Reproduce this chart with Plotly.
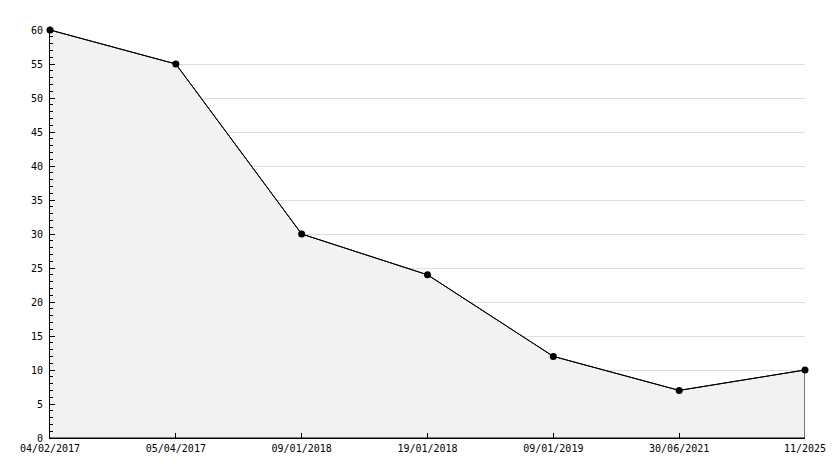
import plotly.graph_objects as go

dates = ["04/02/2017", "05/04/2017", "09/01/2018", "19/01/2018", "09/01/2019", "30/06/2021", "11/2025"]
values = [60, 55, 30, 24, 12, 7, 10]

font = dict(family="DejaVu Sans Mono", size=10, color="#000000")

fig = go.Figure()
# filled area outlined (closed polygon down to zero)
fig.add_trace(go.Scatter(
    x=dates + [dates[-1], dates[0]],
    y=values + [0, 0],
    mode="lines",
    fill="toself",
    fillcolor="#f2f2f2",
    line=dict(color="#000000", width=1),
    hoverinfo="skip",
    showlegend=False,
))
fig.add_trace(go.Scatter(
    x=dates, y=values,
    mode="lines+markers",
    line=dict(color="#000000", width=1),
    marker=dict(symbol="circle", size=7, color="#000000"),
    cliponaxis=False,
    showlegend=False,
))

# page body has an 8px default margin, so the figure is shifted accordingly
fig.update_layout(
    width=826, height=460,
    margin=dict(l=42, r=29, t=22, b=30, autoexpand=False),
    paper_bgcolor="#ffffff",
    plot_bgcolor="#ffffff",
    font=font,
    showlegend=False,
)
fig.update_xaxes(
    type="category",
    categoryorder="array", categoryarray=dates,
    range=[0, len(dates) - 1],
    showgrid=False,
    showline=True, linecolor="#000000", linewidth=1,
    ticks="inside", ticklen=5, tickcolor="#000000",
    tickfont=font,
    ticklabelstandoff=1,
    zeroline=False,
    automargin=False,
)
fig.update_yaxes(
    range=[0, 60],
    tick0=0, dtick=5,
    showgrid=True, gridcolor="#dddddd", gridwidth=1,
    showline=True, linecolor="#000000", linewidth=1,
    ticks="inside", ticklen=5, tickcolor="#000000",
    minor=dict(dtick=1, ticks="inside", ticklen=3, tickcolor="#000000", showgrid=False),
    tickfont=font,
    ticklabelstandoff=4,
    zeroline=False,
    automargin=False,
)

fig.write_html("out.html")
